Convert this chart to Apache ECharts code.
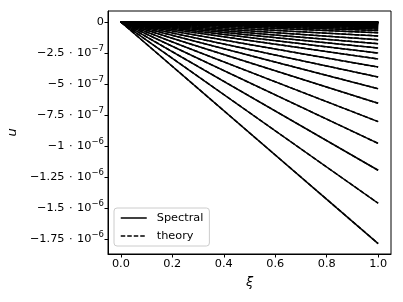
<!DOCTYPE html>
<html>
<head>
<meta charset="utf-8">
<script src="https://cdn.jsdelivr.net/npm/echarts@6/dist/echarts.min.js"></script>
<style>html,body{margin:0;padding:0;background:#fff}#c{width:403px;height:302px}</style>
</head>
<body>
<div id="c"></div>
<script>
// x positions of each line's samples
const xs = [0, 1];
// end values (at xi = 1) of each Spectral line
const spectralEnd = [-1.785e-6, -1.46e-6, -1.194e-6, -0.978e-6, -0.802e-6, -0.655e-6, -0.537e-6, -0.443e-6,
  -0.363e-6, -0.297e-6, -0.250e-6, -0.209e-6, -0.174e-6, -0.142e-6, -0.112e-6, -0.086e-6, -0.069e-6,
  -0.056e-6, -0.046e-6, -0.038e-6, -0.031e-6, -0.0255e-6, -0.021e-6, -0.0172e-6, -0.0141e-6,
  -0.0116e-6, -0.0095e-6, -0.0078e-6, -0.0064e-6, -0.0052e-6, -0.0043e-6, -0.0035e-6, -0.0029e-6,
  -0.0024e-6, -0.0019e-6, -0.0016e-6, -0.0013e-6, -0.0011e-6, -0.0009e-6, -0.0007e-6];
// theory lines coincide with the spectral ones
const theoryEnd = spectralEnd.slice();
const xTicks = [0, 0.2, 0.4, 0.6, 0.8, 1.0];
const xTickLabels = ['0.0', '0.2', '0.4', '0.6', '0.8', '1.0'];
const yTicks = [0, -2.5e-7, -5e-7, -7.5e-7, -1e-6, -1.25e-6, -1.5e-6, -1.75e-6];
const yTickLabels = ['0', '−2.5{g|·}10{s|−7}', '−5{g|·}10{s|−7}', '−7.5{g|·}10{s|−7}', '−1{g|·}10{s|−6}',
  '−1.25{g|·}10{s|−6}', '−1.5{g|·}10{s|−6}', '−1.75{g|·}10{s|−6}'];

const FONT = 'DejaVu Sans';
const FS = 11.3;
const series = [];
spectralEnd.forEach((v, i) => {
  series.push({
    name: 'Spectral', type: 'line', showSymbol: false, symbol: 'none',
    data: [[xs[0], 0], [xs[1], v]],
    lineStyle: {color: '#000', width: 1.5, type: 'solid'}, itemStyle: {color: '#000'},
    silent: true, z: 2
  });
  series.push({
    name: 'theory', type: 'line', showSymbol: false, symbol: 'none',
    data: [[xs[0], 0], [xs[1], theoryEnd[i]]],
    lineStyle: {color: '#000', width: 1.5, type: [4.5, 2]}, itemStyle: {color: '#000'},
    silent: true, z: 3
  });
});

const chart = echarts.init(document.getElementById('c'), null, {renderer: 'canvas'});
chart.setOption({
  animation: false,
  backgroundColor: '#fff',
  grid: {left: 108, right: 12, top: 11, bottom: 48, containLabel: false, outerBoundsMode: 'none',
    show: true, borderColor: '#000', borderWidth: 1, backgroundColor: 'transparent'},
  legend: {
    left: 114, top: 208, orient: 'vertical',
    data: ['Spectral', 'theory'],
    itemWidth: 26, itemHeight: 14, itemGap: 4,
    padding: [3, 6, 3, 6],
    borderColor: '#ccc', borderWidth: 1, borderRadius: 3,
    backgroundColor: 'rgba(255,255,255,0.85)',
    itemStyle: {color: 'transparent', borderWidth: 0, opacity: 0},
    lineStyle: {width: 1.5},
    textStyle: {fontFamily: FONT, fontSize: FS, color: '#000', padding: [0, 0, 0, 5], lineHeight: 14, height: 14}
  },
  xAxis: {
    type: 'value', min: -0.05, max: 1.05,
    name: 'ξ', nameLocation: 'middle', nameGap: 22,
    nameTextStyle: {fontFamily: FONT, fontSize: 13, fontStyle: 'italic', color: '#000'},
    splitLine: {show: false},
    axisLine: {show: true, onZero: false, lineStyle: {color: '#000', width: 1}},
    axisTick: {show: true, length: 3.5, lineStyle: {color: '#000'}, customValues: xTicks},
    axisLabel: {
      customValues: xTicks, margin: 5, fontFamily: FONT, fontSize: FS, color: '#000',
      formatter: v => { const i = xTicks.findIndex(t => Math.abs(t - v) < 1e-9); return i >= 0 ? xTickLabels[i] : ''; }
    }
  },
  yAxis: {
    type: 'value', min: -1.869e-6, max: 0.089e-6,
    name: 'u', nameLocation: 'middle', nameGap: 86,
    nameTextStyle: {fontFamily: FONT, fontSize: 13, fontStyle: 'italic', color: '#000'},
    splitLine: {show: false},
    axisLine: {show: true, onZero: false, lineStyle: {color: '#000', width: 1}},
    axisTick: {show: true, length: 3.5, lineStyle: {color: '#000'}, customValues: yTicks},
    axisLabel: {
      customValues: yTicks, margin: 4, fontFamily: FONT, fontSize: FS, color: '#000',
      formatter: v => { const i = yTicks.findIndex(t => Math.abs(t - v) < 1e-12); return i >= 0 ? yTickLabels[i] : ''; },
      rich: {
        s: {fontFamily: FONT, fontSize: 8.5, color: '#000', padding: [0, 0, 8, 0]},
        g: {fontFamily: FONT, fontSize: FS, color: '#000', padding: [0, 4.5, 0, 4.5]}
      }
    }
  },
  series: series
});
</script>
</body>
</html>
